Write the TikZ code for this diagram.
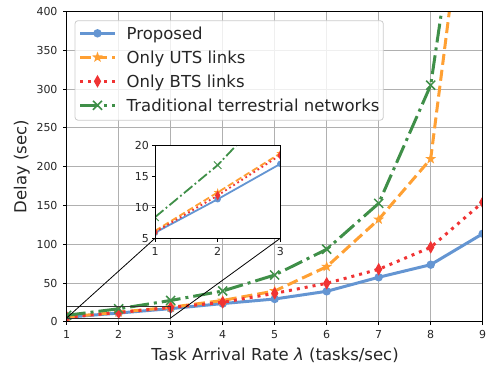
\documentclass[tikz,border=0pt]{standalone}
\usepackage{fontspec}
\setmainfont{DejaVu Sans}
\usepackage{tikz}
\usetikzlibrary{calc, shapes.geometric, shapes.misc}

\definecolor{propblue}{HTML}{6495D2}
\definecolor{utsorange}{HTML}{FFA033}
\definecolor{btsred}{HTML}{F03333}
\definecolor{tradgreen}{HTML}{3F8F48}
\definecolor{gridgray}{HTML}{B0B0B0}
\definecolor{legendgray}{HTML}{CCCCCC}
\definecolor{labelgray}{HTML}{262626}

\tikzset{
  tick label/.style={inner sep=0pt, text=labelgray, font=\fontsize{11}{13}\selectfont},
  axis label/.style={inner sep=0pt, text=labelgray, font=\fontsize{16.5}{19}\selectfont},
  grid line/.style={draw=gridgray, line width=0.8pt},
  spine/.style={draw=black, line width=1pt},
  zoom box/.style={draw=black!80, line width=0.8pt},
  connector/.style={draw=black, line width=0.8pt},
  proposed/.style={draw=propblue, line width=3pt, line join=round},
  uts/.style={draw=utsorange, line width=3pt, dash pattern=on 11pt off 5pt},
  bts/.style={draw=btsred, line width=3pt, dash pattern=on 3pt off 5pt},
  trad/.style={draw=tradgreen, line width=3pt, dash pattern=on 19pt off 5pt on 3pt off 5pt},
  proposed small/.style={draw=propblue, line width=1.8pt, line join=round},
  uts small/.style={draw=utsorange, line width=1.8pt, dash pattern=on 6.5pt off 3pt},
  bts small/.style={draw=btsred, line width=1.8pt, dash pattern=on 1.8pt off 3pt},
  trad small/.style={draw=tradgreen, line width=1.8pt, dash pattern=on 11pt off 3pt on 1.8pt off 3pt},
  blue dot/.style={circle, fill=propblue, inner sep=0pt, minimum size=8.5pt},
  orange star/.style={star, star points=5, star point ratio=2.5, fill=utsorange, inner sep=0pt, minimum size=11.5pt},
  red diamond/.style={diamond, fill=btsred, inner sep=0pt, minimum width=7.5pt, minimum height=13pt},
  green cross/.style={cross out, draw=tradgreen, line width=1.5pt, inner sep=0pt, minimum size=7.5pt},
}

\begin{document}
\begin{tikzpicture}
  \useasboundingbox (0,0) rectangle (487pt,364pt);

  % main axes
  \begin{scope}[x=52pt, y=0.7758pt, shift={(14.7pt,42.2pt)}]
    \foreach \x in {1,...,9}
      \draw[grid line] (\x,0) -- (\x,400);
    \foreach \v in {0,50,...,400}
      \draw[grid line] (1,\v) -- (9,\v);

    \begin{scope}
      \clip (1,0) rectangle (9,400);
      \draw[proposed] (1,5.9) -- (2,11.3) -- (3,17.0) -- (4,23.5) -- (5,29.4) -- (6,39.3) -- (7,57.4) -- (8,73.6) -- (9,113.5);
      \foreach \x/\y in {1/5.9, 2/11.3, 3/17.0, 4/23.5, 5/29.4, 6/39.3, 7/57.4, 8/73.6, 9/113.5}
        \node[blue dot] (pm\x) at (\x,\y) {};

      \draw[uts] (1,6.2) -- (2,12.4) -- (3,18.7) -- (4,27.5) -- (5,39.7) -- (6,71) -- (7,132) -- (8,210) -- (9,740);
      \foreach \x/\y in {1/6.2, 2/12.4, 3/18.7, 4/27.5, 5/39.7, 6/71, 7/132, 8/210}
        \node[orange star] (um\x) at (\x,\y) {};

      \draw[bts] (1,6.0) -- (2,11.9) -- (3,18.4) -- (4,25.1) -- (5,36.7) -- (6,49.6) -- (7,67.7) -- (8,96) -- (9,154);
      \foreach \x/\y in {1/6.0, 2/11.9, 3/18.4, 4/25.1, 5/36.7, 6/49.6, 7/67.7, 8/96, 9/154}
        \node[red diamond] (bm\x) at (\x,\y) {};

      \draw[trad] (1,8.4) -- (2,16.8) -- (3,27.5) -- (4,39.7) -- (5,60.3) -- (6,93.5) -- (7,152.7) -- (8,305) -- (9,760);
      \foreach \x/\y in {1/8.4, 2/16.8, 3/27.5, 4/39.7, 5/60.3, 6/93.5, 7/152.7, 8/305}
        \node[green cross] (tm\x) at (\x,\y) {};
    \end{scope}

    % region shown in the inset
    \draw[zoom box] (1,5) rectangle (3,20);
    \coordinate (zoomSW) at (1,5);
    \coordinate (zoomSE) at (3,5);

    \draw[spine] (1,0) rectangle (9,400);
    \foreach \v in {0,50,...,400} {
      \draw[spine, line width=0.8pt] (1,\v) -- ++(-3.5pt,0);
      \node[tick label, anchor=east] (yt\v) at ([xshift=-9pt]1,\v) {\v};
    }
    \foreach \x in {1,...,9} {
      \draw[spine, line width=0.8pt] (\x,0) -- ++(0,-3.5pt);
      \node[tick label, anchor=north] (xt\x) at ([yshift=-8.5pt]\x,0) {\x};
    }
  \end{scope}

  \node[axis label, rotate=90] (ylabel) at (21.7pt,197.3pt) {Delay (sec)};
  \node[axis label, anchor=base] (xlabel) at (275pt,3.5pt) {Task Arrival Rate {\itshape λ} (tasks/sec)};

  % legend
  \draw[draw=legendgray, fill=white, fill opacity=0.8, rounded corners=3pt, line width=0.8pt]
    (75pt,243.8pt) rectangle (383.3pt,343.3pt);
  \draw[proposed] (80pt,330.7pt) -- (115pt,330.7pt);
  \node[blue dot] (lgp) at (97.5pt,330.7pt) {};
  \node[axis label, anchor=base west] (lgtp) at (126.5pt,324.7pt) {Proposed};
  \draw[uts] (80pt,306.7pt) -- (115pt,306.7pt);
  \node[orange star] (lgu) at (97.5pt,306.7pt) {};
  \node[axis label, anchor=base west] (lgtu) at (126.5pt,300.7pt) {Only UTS links};
  \draw[bts] (80pt,282.7pt) -- (115pt,282.7pt);
  \node[red diamond] (lgb) at (97.5pt,282.7pt) {};
  \node[axis label, anchor=base west] (lgtb) at (126.5pt,276.7pt) {Only BTS links};
  \draw[trad] (80pt,258.7pt) -- (115pt,258.7pt);
  \node[green cross] (lgt) at (97.5pt,258.7pt) {};
  \node[axis label, anchor=base west] (lgtt) at (126.5pt,252.7pt) {Traditional terrestrial networks};

  % inset
  \begin{scope}[x=62.65pt, y=6.2pt, shift={(92.35pt,94.7pt)}]
    \fill[white] (1,5) rectangle (3,20);
    \begin{scope}
      \clip (1,5) rectangle (3,20);
      \draw[proposed small] (1,5.9) -- (2,11.3) -- (3,17.0) -- (4,23.5);
      \foreach \x/\y in {1/5.9, 2/11.3, 3/17.0}
        \node[blue dot, minimum size=6.5pt] (ip\x) at (\x,\y) {};
      \draw[uts small] (1,6.2) -- (2,12.4) -- (3,18.7) -- (4,27.5);
      \foreach \x/\y in {1/6.2, 2/12.4, 3/18.7}
        \node[orange star, minimum size=8.5pt] (iu\x) at (\x,\y) {};
      \draw[bts small] (1,6.0) -- (2,11.9) -- (3,18.4) -- (4,25.1);
      \foreach \x/\y in {1/6.0, 2/11.9, 3/18.4}
        \node[red diamond, minimum width=5.5pt, minimum height=10pt] (ib\x) at (\x,\y) {};
      \draw[trad small] (1,8.4) -- (2,16.8) -- (3,27.5);
      \foreach \x/\y in {1/8.4, 2/16.8}
        \node[green cross, line width=1pt, minimum size=6.5pt] (it\x) at (\x,\y) {};
    \end{scope}
    \draw[spine] (1,5) rectangle (3,20);
    \foreach \v in {5,10,15,20} {
      \draw[spine, line width=0.8pt] (1,\v) -- ++(-3.5pt,0);
      \node[tick label, anchor=east] (iyt\v) at ([xshift=-6pt]1,\v) {\v};
    }
    \foreach \x in {1,2,3} {
      \draw[spine, line width=0.8pt] (\x,5) -- ++(0,-3.5pt);
      \node[tick label, anchor=north] (ixt\x) at ([yshift=-8.5pt]\x,5) {\x};
    }
    \coordinate (insetSW) at (1,5);
    \coordinate (insetSE) at (3,5);
  \end{scope}

  \draw[connector] (zoomSW) -- (insetSW);
  \draw[connector] (zoomSE) -- (insetSE);
\end{tikzpicture}
\end{document}
